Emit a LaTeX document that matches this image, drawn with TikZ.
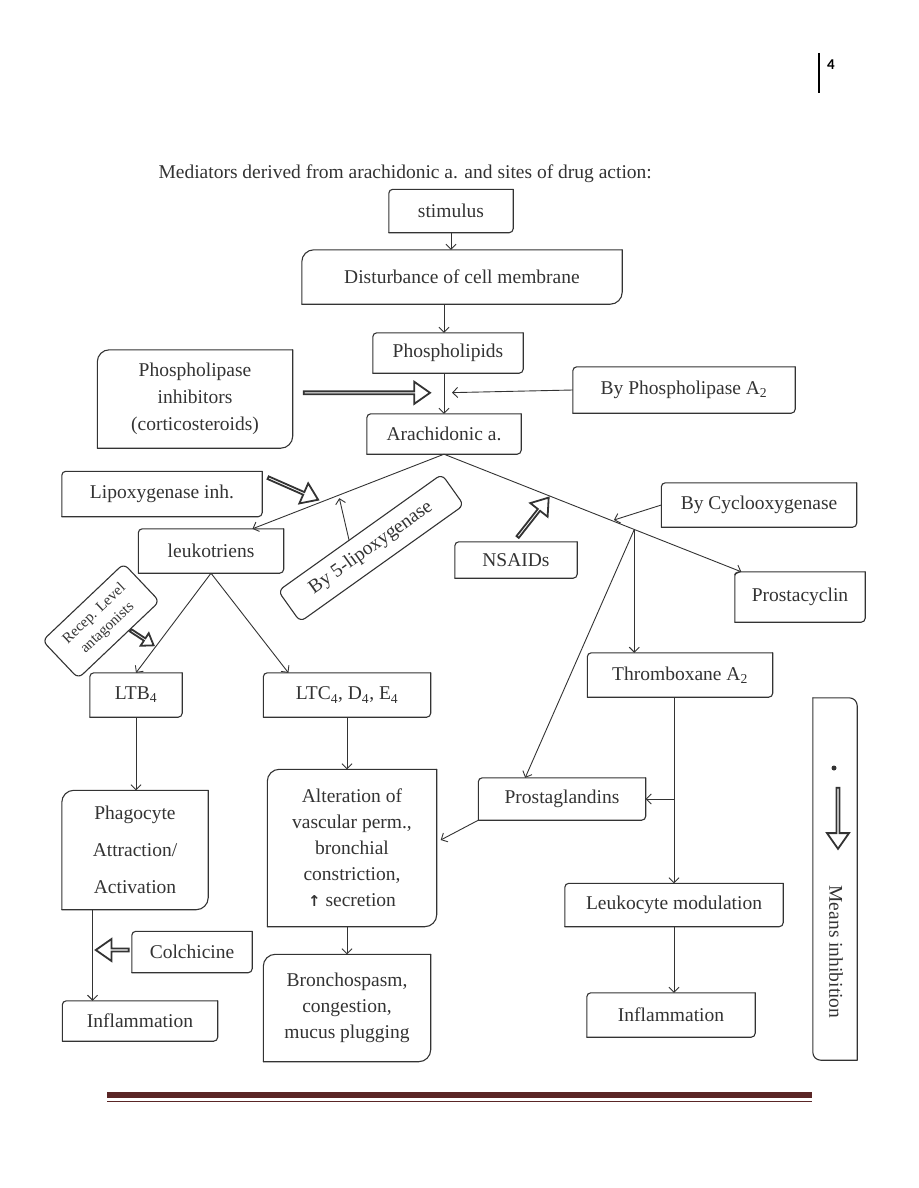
\documentclass[tikz,border=0pt]{standalone}
\usepackage{fontspec}
\setmainfont{Liberation Serif}
\newfontfamily\headfont{Carlito}
\newfontfamily\symfont{DejaVu Sans}
\usetikzlibrary{arrows.meta,calc,shapes.arrows}
\definecolor{ink}{gray}{0.2}
\definecolor{barcol}{RGB}{90,38,38}

\tikzset{
  box/.style={inner sep=2pt, align=center, text=ink},
  sz/.style 2 args={minimum width=#1pt, minimum height=#2pt},
  tilted/.style={draw=ink, line width=1.1pt, rounded corners=6pt, inner sep=2pt, align=center, text=ink},
  boxline/.style={draw=ink, line width=1.1pt, line cap=round},
  conn/.style={draw=ink, line width=0.9pt, -{Straight Barb[length=5pt,width=10pt]}},
  hollow/.style={single arrow, draw=ink, line width=1.8pt, fill=white, inner sep=0pt,
    minimum width=22pt, single arrow head extend=6pt, single arrow tip angle=70},
}

% block arrow between two points: name, from, to, options
\newcommand\hollowarrow[4]{%
  \path let \p1=($(#3)-(#2)$), \n1={atan2(\y1,\x1)}, \n2={veclen(\x1,\y1)} in
    node[hollow,#4,rotate=\n1,minimum height=\n2] (#1) at ($(#2)!0.5!(#3)$) {};}

\begin{document}
\begin{tikzpicture}[x=1pt, y=-1pt, font=\fontsize{19.5}{26}\selectfont]
\useasboundingbox (0,0) rectangle (918,1188);

% page header and footer
\node[text=black, font=\headfont\bfseries\fontsize{15}{16}\selectfont] (pnum) at (831,65) {4};
\draw[line width=1.3pt] (819,53) -- (819,93);
\fill[barcol] (107,1092) rectangle (812,1098);
\draw[barcol, line width=1.2pt] (107,1101.5) -- (812,1101.5);

\node[anchor=west, text=ink] (title) at (155,174) {Mediators derived from arachidonic a. and sites of drug action:};

% main column
\node[box, sz={124}{43}] (stim) at (451,211) {stimulus};
\node[box, sz={320}{54}] (memb) at (462,277) {Disturbance of cell membrane};
\node[box, sz={150}{40}] (phl) at (448,353) {Phospholipids};
\node[box, sz={154}{40}] (ara) at (444,434) {Arachidonic a.};
\node[box, sz={195}{98}, font=\fontsize{19.5}{27}\selectfont] (phinh) at (195,399) {Phospholipase\\inhibitors\\(corticosteroids)};
\node[box, sz={222}{46}] (bypla) at (684,390) {By Phospholipase A\textsubscript{2}};

% lipoxygenase side
\node[box, sz={200}{45}] (lipinh) at (162,494) {Lipoxygenase inh.};
\node[box, sz={145}{44}] (leuk) at (211,551) {leukotriens};
\node[tilted, rotate=35.5, sz={201}{38}] (lox) at (371,548) {By 5-lipoxygenase};
\node[tilted, rotate=43.5, sz={112}{52}, font=\fontsize{15}{19}\selectfont] (recep) at (101,621) {Recep. Level\\antagonists};
\node[box, sz={92}{44}] (ltb) at (136,695) {LTB\textsubscript{4}};
\node[box, sz={167}{44}] (ltc) at (347,695) {LTC\textsubscript{4}, D\textsubscript{4}, E\textsubscript{4}};
\node[box, sz={146}{119}, font=\fontsize{19.5}{37}\selectfont] (phag) at (135,850) {Phagocyte\\Attraction/\\Activation};
\node[box, sz={169}{157}] (alt) at (352,848) {Alteration of\\vascular perm.,\\bronchial\\constriction,\\{\symfont\bfseries\fontsize{15}{15}\selectfont ↑} secretion};
\node[box, sz={120}{41}] (colch) at (192,952) {Colchicine};
\node[box, sz={155}{40}] (infl) at (140,1021) {Inflammation};
\node[box, sz={167}{107}] (bron) at (347,1008) {Bronchospasm,\\congestion,\\mucus plugging};

% cyclooxygenase side
\node[box, sz={122}{36}] (nsaid) at (516,560) {NSAIDs};
\node[box, sz={195}{44}] (cyc) at (759,505) {By Cyclooxygenase};
\node[box, sz={130}{50}] (pcy) at (800,597) {Prostacyclin};
\node[box, sz={185}{44}] (txa) at (680,675) {Thromboxane A\textsubscript{2}};
\node[box, sz={167}{42}] (pg) at (562,799) {Prostaglandins};
\node[box, sz={218}{43}] (lm) at (674,905) {Leukocyte modulation};
\node[box, sz={168}{44}] (infr) at (671,1015) {Inflammation};

% legend
\node[box, sz={44}{362}] (leg) at (835,879) {};
\node[circle, fill=ink, inner sep=0pt, minimum size=5pt] (dot) at (834,768) {};
\node[text=ink, rotate=-90] (means) at (836,952) {Means inhibition};

% box outlines: top left and bottom right corners rounded
\foreach \n in {stim,phl,ara,bypla,lipinh,leuk,ltb,ltc,colch,infl,nsaid,cyc,pcy,txa,pg,lm,infr} {
  \draw[boxline, rounded corners=4pt] (\n.south west) |- (\n.north east);
  \draw[boxline, rounded corners=4pt] (\n.north east) |- (\n.south west);
}
\foreach \n in {memb,phinh,phag,alt,bron} {
  \draw[boxline, rounded corners=12pt] (\n.south west) |- (\n.north east);
  \draw[boxline, rounded corners=12pt] (\n.north east) |- (\n.south west);
}
\draw[boxline, rounded corners=8pt] (leg.north west) -| (leg.south east);
\draw[boxline, rounded corners=8pt] (leg.south east) -| (leg.north west);

% points on the branches
\coordinate (jn) at ($(ara.north)+(0,-21)$);
\coordinate (lk) at ($(leuk.north)!0.57!(leuk.north east)$);
\coordinate (lx) at ($(ara.south)!0.55!(lk)$);
\coordinate (pc) at ($(pcy.north west)!0.05!(pcy.north east)$);
\coordinate (cy) at ($(ara.south)!0.565!(pc)$);
\coordinate (bp) at ($(ara.south)!0.64!(pc)$);
\coordinate (tb) at (lm.north |- pg.east);
\coordinate (pf) at ($(phag.south west)!0.21!(phag.south east)$);

% connectors
\draw[conn] (stim.south) -- (stim.south |- memb.north);
\draw[conn] (memb.south -| ara.north) -- (phl.north -| ara.north);
\draw[conn] (phl.south -| ara.north) -- (ara.north);
\draw[conn, shorten >=8pt] (bypla.west) -- (jn);
\draw[conn] (ara.south) -- (lk);
\draw[conn, shorten >=3pt] ($(lox.north)!0.13!(lox.north west)$) -- (lx);
\draw[conn] (leuk.south) -- (ltb.north);
\draw[conn] (leuk.south) -- ($(ltc.north west)!0.15!(ltc.north east)$);
\draw[conn] (ltb.south) -- (ltb.south |- phag.north);
\draw[conn] (ltc.south) -- (ltc.south |- alt.north);
\draw[conn] (pf) -- (pf |- infl.north);
\draw[conn] (ltc.south |- alt.south) -- (ltc.south |- bron.north);
\draw[conn] (ara.south) -- (pc);
\draw[conn, shorten >=2pt] (cyc.west) -- (cy);
\draw[conn] (bp) -- (bp |- txa.north);
\draw[conn] (bp) -- ($(pg.north west)!0.28!(pg.north east)$);
\draw[conn] (txa.south -| lm.north) -- (lm.north);
\draw[conn] (tb) -- (pg.east);
\draw[conn] (pg.south west) -- ($(alt.east)+(4,-8)$);
\draw[conn] (lm.south) -- (lm.south |- infr.north);

% inhibition arrows
\coordinate (pa) at ($(phinh.east |- jn)+(10,0)$);
\coordinate (pb) at ($(jn)+(-15,0)$);
\hollowarrow{phiarr}{pa}{pb}{}
\hollowarrow{liparr}{$(lipinh.north east)+(5,6)$}{$(lipinh.north east)+(55,28)$}{}
\hollowarrow{nsarr}{$(nsaid.north)+(1,-4)$}{$(ara.south)!0.35!(pc)+(0,3)$}{}
\hollowarrow{recarr}{$(ltb.north west)+(40,-43)$}{$(ltb.north west)+(63,-28)$}{minimum width=15pt, single arrow head extend=4pt}
\hollowarrow{colarr}{$(colch.west)+(-2,-2)$}{$(colch.west)+(-35,-2)$}{}
\hollowarrow{legarr}{$(leg.north)+(3,89)$}{$(leg.north)+(3,150)$}{}
\end{tikzpicture}
\end{document}
